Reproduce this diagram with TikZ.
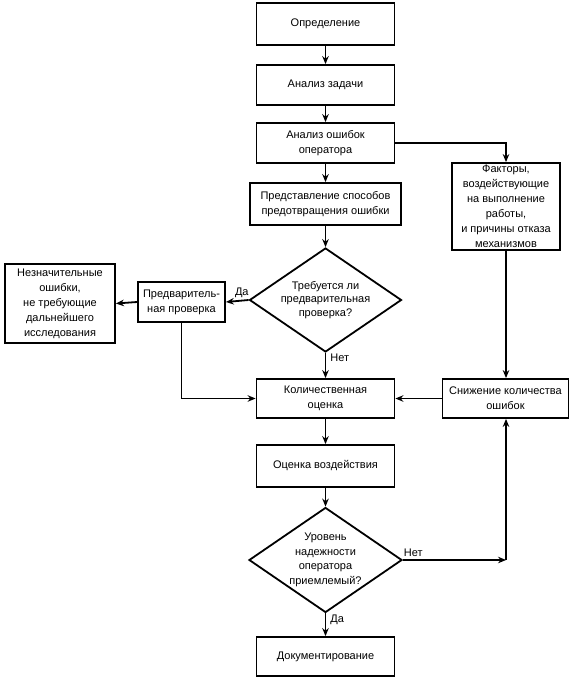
\documentclass[tikz,border=0pt]{standalone}
\usepackage{fontspec}
\setmainfont{Liberation Sans}
\usetikzlibrary{shapes.geometric,arrows.meta}
\tikzset{
  box/.style={draw, line width=1.8pt, rectangle, inner sep=0pt, align=center,
    font=\fontsize{11}{15}\selectfont},
  dia/.style={draw, line width=1.8pt, diamond, shape aspect=1.46, inner sep=0pt, align=center},
  arr/.style={line width=1.8pt, -{Stealth[length=8pt,width=6.5pt]}},
  lbl/.style={font=\fontsize{11}{13}\selectfont, inner sep=1pt}
}
\begin{document}
\begin{tikzpicture}[x=1pt,y=-1pt]
\useasboundingbox (0,0) rectangle (577,682);
\node[box, minimum width=138pt, minimum height=42pt] (def) at (325.5,24) {Определение};
\node[box, minimum width=138pt, minimum height=40pt] (task) at (325.5,85) {Анализ задачи};
\node[box, minimum width=138pt, minimum height=40pt] (err) at (325.5,143) {Анализ ошибок\\оператора};
\node[box, minimum width=151pt, minimum height=42pt] (repr) at (325.5,204) {Представление способов\\предотвращения ошибки};
\node[box, minimum width=108pt, minimum height=87pt] (fac) at (506,206.5) {Факторы,\\воздействующие\\на выполнение\\работы,\\и причины отказа\\механизмов};
\node[dia, font=\fontsize{11}{13.5}\selectfont, minimum width=152pt, minimum height=104pt] (d1) at (325.5,300) {Требуется ли\\предварительная\\проверка?};
\node[box, minimum width=87pt, minimum height=40pt] (pre) at (181.5,302) {Предваритель-\\ная проверка};
\node[box, minimum width=110pt, minimum height=79pt] (minor) at (60,303.5) {Незначительные\\ошибки,\\не требующие\\дальнейшего\\исследования};
\node[box, minimum width=138pt, minimum height=39pt] (quant) at (325.5,398.5) {Количественная\\оценка};
\node[box, minimum width=126pt, minimum height=39pt] (red) at (505.5,398.5) {Снижение количества\\ошибок};
\node[box, minimum width=138pt, minimum height=42pt] (imp) at (325.5,466) {Оценка воздействия};
\node[dia, font=\fontsize{11}{14.5}\selectfont, minimum width=153pt, minimum height=105pt] (d2) at (325.5,560) {Уровень\\надежности\\оператора\\приемлемый?};
\node[box, minimum width=138pt, minimum height=39pt] (doc) at (325.5,656.5) {Документирование};

\draw[arr] (def) -- (task);
\draw[arr] (task) -- (err);
\draw[arr] (err) -- (repr);
\draw[arr] (err.east) -| (fac.north);
\draw[arr] (repr) -- (d1.north);
\draw[arr] (d1.west) -- node[lbl, above=1pt, pos=0.3] {Да} (pre.east);
\draw[arr] (pre.west) -- (minor.east);
\draw[arr] (pre.south) |- (quant.west);
\draw[arr] (d1.south) -- node[lbl, right=3pt, pos=0.18] {Нет} (quant.north);
\draw[arr] (fac.south) -- (fac.south |- red.north);
\draw[arr] (red.west) -- (quant.east);
\draw[arr] (quant) -- (imp);
\draw[arr] (imp) -- (d2.north);
\coordinate (c2) at (fac.south |- d2.east);
\draw[arr] (d2.east) -- node[lbl, above=1pt, pos=0.1] {Нет} (c2);
\draw[arr] (c2) -- (c2 |- red.south);
\draw[arr] (d2.south) -- node[lbl, right=3pt, pos=0.3] {Да} (doc.north);
\end{tikzpicture}
\end{document}
